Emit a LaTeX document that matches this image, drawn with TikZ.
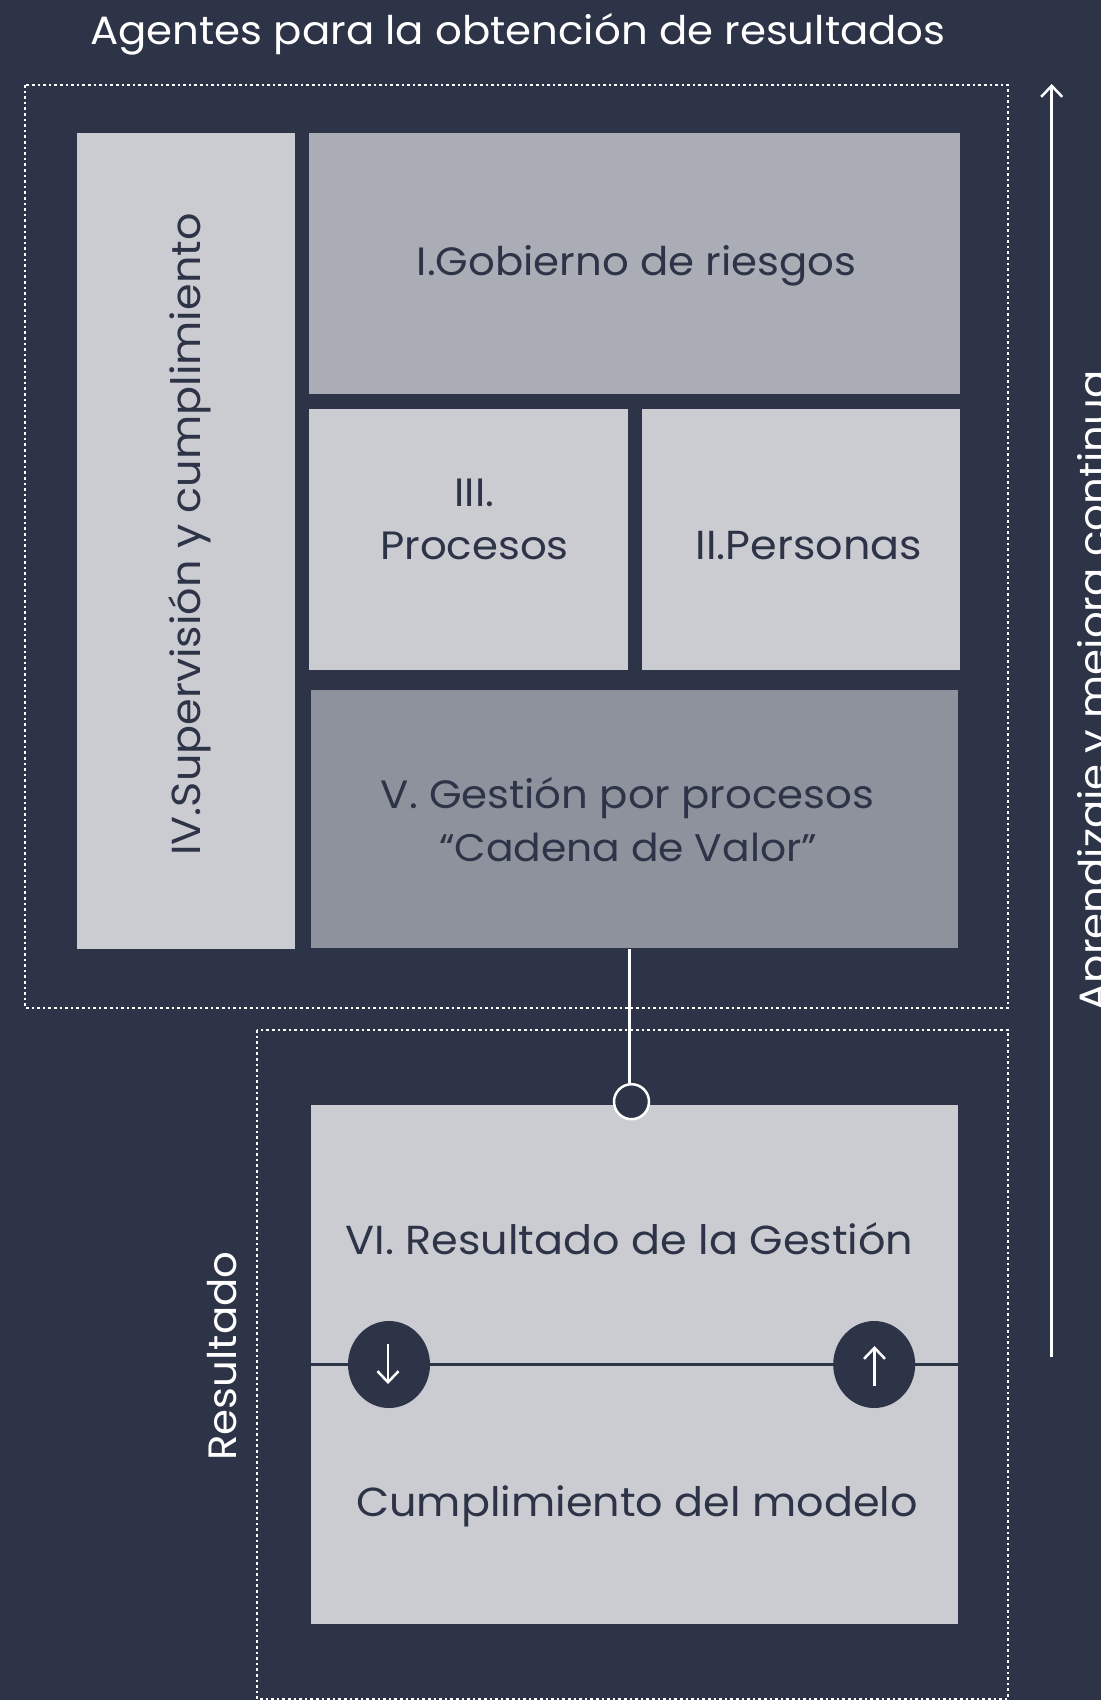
\documentclass[tikz,border=0pt]{standalone}
\usepackage{fontspec}
\setmainfont[FakeStretch=1.06]{Poppins}
\usetikzlibrary{arrows.meta,shapes.geometric}
\definecolor{fondo}{HTML}{2E3447}
\definecolor{clarito}{HTML}{CBCCD1}
\definecolor{medio}{HTML}{AAADB5}
\definecolor{oscuro}{HTML}{8E929D}
\tikzset{
caja/.style={rectangle,anchor=north west,inner sep=0pt,outer sep=0pt},
punteado/.style={line width=2.6pt,color=white,dash pattern=on 2.6pt off 3pt},
rotulo/.style={anchor=base,inner sep=0pt,color=fondo,font=\fontsize{39.5}{46}\selectfont},
rotuloancho/.style={rotulo,font=\fontsize{40.5}{46}\selectfont},
rotuloblanco/.style={rotulo,color=white},
flecha/.style={line width=2.5pt,color=white,-{Straight Barb[length=11pt,width=21pt,line width=2.5pt]}},
bola/.style={ellipse,fill=fondo,inner sep=0pt,minimum width=82pt,minimum height=87pt}
}
\begin{document}
\begin{tikzpicture}[x=1pt,y=-1pt]
\clip (0,0) rectangle (1101,1700);
\fill [fondo] (0,0) rectangle (1101,1700);
\draw [punteado] (25,85) rectangle (1008,1008);
\draw [punteado] (257,1030) rectangle (1008,1699);
\node (supervision) [caja,fill=clarito,minimum width=218pt,minimum height=816pt] at (77,133) {};
\node (gobierno) [caja,fill=medio,minimum width=651pt,minimum height=261pt] at (309,133) {};
\node (procesos) [caja,fill=clarito,minimum width=318.5pt,minimum height=260.5pt] at (309,409) {};
\node (personas) [caja,fill=clarito,minimum width=318.5pt,minimum height=260.5pt] at (641.5,409) {};
\node (gestion) [caja,fill=oscuro,minimum width=647pt,minimum height=258pt] at (311,690) {};
\node (resultado) [caja,fill=clarito,minimum width=647pt,minimum height=519pt] at (311,1105) {};
\node (enlace) [circle,draw=white,fill=fondo,line width=2.5pt,inner sep=0pt,minimum size=35pt] at (631.5,1101.7) {};
\coordinate (salida) at (629.5,949);
\draw [line width=2.5pt,color=white] (salida) -- (salida |- enlace.north);
\draw [line width=2.5pt,color=fondo] (resultado.west) -- (resultado.east);
\node (baja) [bola] at (389,1364.5) {};
\node (sube) [bola] at (874.2,1364.5) {};
\coordinate (bajaini) at (388,1344);
\coordinate (bajafin) at (388,1384);
\coordinate (subeini) at (874.5,1386);
\coordinate (subefin) at (874.5,1346);
\draw [flecha] (bajaini) -- (bajafin);
\draw [flecha] (subeini) -- (subefin);
\coordinate (mejoraini) at (1051.7,1357);
\coordinate (mejorafin) at (1051.7,84);
\draw [flecha] (mejoraini) -- (mejorafin);
\node (titulo) [rotuloblanco] at (518,44) {Agentes para la obtención de resultados};
\node (tgobierno) [rotulo] at (636.5,275.5) {I.Gobierno de riesgos};
\node (tprocesosa) [rotulo] at (474.5,506) {III.};
\node (tprocesosb) [rotulo] at (474.5,559) {Procesos};
\node (tpersonas) [rotuloancho] at (809,559) {II.Personas};
\node (tgestiona) [rotulo] at (627.5,808.5) {V. Gestión por procesos};
\node (tgestionb) [rotulo,font=\fontsize{38.5}{46}\selectfont] at (628,861.5) {“Cadena de Valor”};
\node (tresultado) [rotuloancho] at (629.5,1254) {VI. Resultado de la Gestión};
\node (tcumple) [rotuloancho] at (637,1516) {Cumplimiento del modelo};
\node (tsupervision) [rotuloancho,rotate=90] at (200.5,534.5) {IV.Supervisión y cumplimiento};
\node (tlateral) [rotuloblanco,rotate=90] at (236,1356) {Resultado};
\node (tmejora) [rotuloblanco,rotate=90] at (1107,691) {Aprendizaje y mejora continua};
\end{tikzpicture}
\end{document}
